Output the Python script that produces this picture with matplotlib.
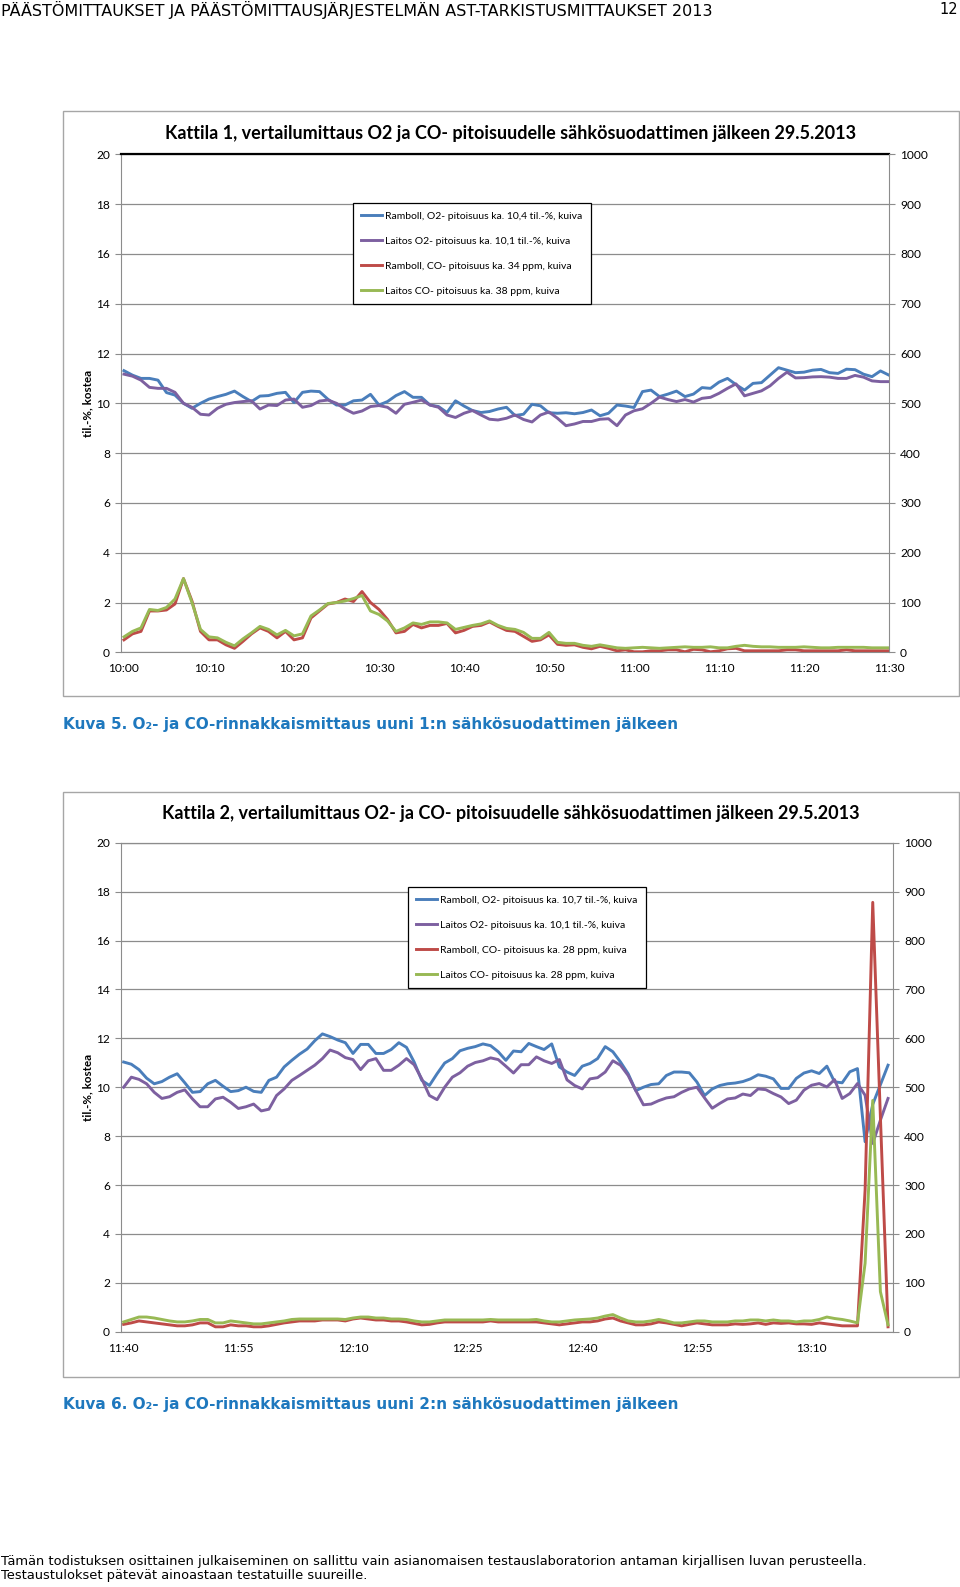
import matplotlib
matplotlib.use("Agg")
import matplotlib.pyplot as plt
from matplotlib.patches import Rectangle
import numpy as np

W, H = 960, 1587

# ---- Kattila 1: one value per minute, 10:00 - 11:30
k1_ramboll_o2 = [
    11.31, 11.13, 11.0, 11.0, 10.93, 10.43, 10.33, 10.0, 9.8, 10.0,
    10.17, 10.27, 10.36, 10.49, 10.27, 10.07, 10.29, 10.31, 10.4, 10.44,
    10.03, 10.44, 10.49, 10.47, 10.16, 9.93, 9.93, 10.1, 10.13, 10.36,
    9.93, 10.07, 10.31, 10.47, 10.24, 10.24, 9.93, 9.87, 9.63, 10.1,
    9.89, 9.71, 9.63, 9.67, 9.77, 9.84, 9.51, 9.56, 9.96, 9.9,
    9.62, 9.6, 9.62, 9.58, 9.63, 9.73, 9.5, 9.6, 9.93, 9.89,
    9.83, 10.47, 10.53, 10.27, 10.37, 10.49, 10.27, 10.37, 10.63, 10.6,
    10.85, 11.0, 10.75, 10.53, 10.8, 10.83, 11.13, 11.43, 11.33, 11.23,
    11.25, 11.33, 11.36, 11.23, 11.2, 11.37, 11.35, 11.17, 11.07, 11.3,
    11.13,
]
k1_laitos_o2 = [
    11.17, 11.09, 10.93, 10.64, 10.6, 10.6, 10.44, 10.0, 9.84, 9.56,
    9.53, 9.8, 9.96, 10.03, 10.07, 10.1, 9.77, 9.93, 9.91, 10.13,
    10.17, 9.84, 9.91, 10.09, 10.13, 10.0, 9.77, 9.6, 9.69, 9.87,
    9.91, 9.84, 9.6, 9.96, 10.04, 10.13, 9.93, 9.84, 9.53, 9.43,
    9.6, 9.71, 9.53, 9.36, 9.33, 9.4, 9.53, 9.35, 9.25, 9.53,
    9.65, 9.4, 9.1, 9.17, 9.27, 9.27, 9.36, 9.38, 9.1, 9.53,
    9.7, 9.78, 10.0, 10.25, 10.15, 10.07, 10.15, 10.05, 10.2, 10.24,
    10.4, 10.6, 10.78, 10.3, 10.4, 10.5, 10.7, 11.0, 11.25, 11.02,
    11.03, 11.06, 11.07, 11.05, 11.0, 11.0, 11.12, 11.05, 10.9, 10.87,
    10.87,
]
k1_ramboll_co = [
    25, 37, 42, 83, 83, 85, 97, 148, 103, 42,
    25, 25, 15, 8, 22, 37, 49, 42, 29, 42,
    25, 29, 69, 83, 97, 100, 107, 102, 122, 100,
    86, 66, 39, 42, 56, 49, 54, 54, 58, 39,
    44, 52, 54, 61, 52, 44, 42, 32, 22, 25,
    35, 16, 14, 15, 10, 7, 12, 8, 3, 5,
    1, 1, 3, 3, 5, 5, 1, 6, 5, 1,
    3, 7, 8, 3, 3, 3, 3, 3, 5, 5,
    3, 3, 3, 3, 3, 5, 3, 3, 3, 3,
    3,
]
k1_laitos_co = [
    31, 42, 49, 86, 84, 90, 107, 148, 100, 46,
    31, 29, 20, 13, 27, 39, 52, 46, 35, 44,
    33, 37, 73, 85, 98, 100, 103, 108, 114, 83,
    76, 63, 42, 49, 59, 56, 61, 61, 59, 46,
    50, 54, 57, 63, 54, 48, 46, 40, 28, 28,
    40, 20, 18, 18, 14, 12, 15, 12, 9, 8,
    9, 10, 9, 8, 9, 10, 11, 10, 10, 11,
    9, 9, 12, 14, 12, 11, 11, 10, 10, 10,
    11, 10, 9, 9, 10, 10, 10, 10, 9, 9,
    9,
]
k1_ticks = ["10:00", "10:10", "10:20", "10:30", "10:40", "10:50",
            "11:00", "11:10", "11:20", "11:30"]
k1_labels = [
    "Ramboll, O2- pitoisuus ka. 10,4 til.-%, kuiva",
    "Laitos O2- pitoisuus ka. 10,1 til.-%, kuiva",
    "Ramboll, CO- pitoisuus ka. 34 ppm, kuiva",
    "Laitos CO- pitoisuus ka. 38 ppm, kuiva",
]

# ---- Kattila 2: one value per minute, 11:40 - 13:20
k2_ramboll_o2 = [
    11.03, 10.94, 10.72, 10.37, 10.14, 10.23, 10.41, 10.55, 10.18, 9.79,
    9.82, 10.14, 10.28, 10.04, 9.82, 9.86, 10.0, 9.83, 9.79, 10.28,
    10.41, 10.83, 11.1, 11.35, 11.56, 11.9, 12.18, 12.07, 11.93, 11.82,
    11.38, 11.75, 11.75, 11.38, 11.38, 11.54, 11.82, 11.63, 11.03, 10.28,
    10.07, 10.55, 10.99, 11.17, 11.49, 11.59, 11.66, 11.77, 11.7, 11.45,
    11.1, 11.48, 11.45, 11.79, 11.66, 11.54, 11.77, 10.83, 10.62, 10.48,
    10.86, 10.97, 11.17, 11.66, 11.45, 11.03, 10.55, 9.86, 10.0, 10.11,
    10.14, 10.48, 10.62, 10.62, 10.59, 10.21, 9.66, 9.93, 10.07, 10.14,
    10.17, 10.23, 10.34, 10.51, 10.45, 10.34, 9.95, 9.95, 10.36, 10.58,
    10.67, 10.56, 10.86, 10.22, 10.18, 10.63, 10.76, 7.77, 9.3, 10.1,
    10.9,
]
k2_laitos_o2 = [
    10.0, 10.41, 10.32, 10.14, 9.79, 9.54, 9.61, 9.79, 9.89, 9.52,
    9.2, 9.2, 9.52, 9.59, 9.38, 9.13, 9.2, 9.31, 9.03, 9.1,
    9.66, 9.93, 10.28, 10.48, 10.69, 10.9, 11.17, 11.52, 11.41, 11.21,
    11.13, 10.72, 11.08, 11.17, 10.69, 10.69, 10.9, 11.17, 10.92, 10.34,
    9.66, 9.49, 10.0, 10.41, 10.59, 10.86, 11.01, 11.08, 11.2, 11.13,
    10.86, 10.58, 10.92, 10.92, 11.24, 11.08, 10.97, 11.13, 10.3, 10.07,
    9.93, 10.34, 10.39, 10.62, 11.08, 10.9, 10.48, 9.86, 9.28, 9.31,
    9.45, 9.56, 9.61, 9.79, 9.93, 10.0, 9.56, 9.14, 9.34, 9.52,
    9.56, 9.72, 9.66, 9.93, 9.9, 9.74, 9.6, 9.33, 9.47, 9.88,
    10.08, 10.15, 10.01, 10.31, 9.54, 9.74, 10.15, 9.67, 7.7, 8.65,
    9.54,
]
k2_ramboll_co = [
    15, 18, 22, 20, 18, 16, 14, 12, 12, 14,
    18, 18, 10, 10, 14, 12, 12, 10, 10, 12,
    15, 18, 20, 22, 22, 22, 24, 24, 24, 22,
    26, 28, 26, 24, 24, 22, 22, 20, 17, 14,
    15, 18, 20, 20, 20, 20, 20, 20, 22, 20,
    20, 20, 20, 20, 20, 18, 16, 14, 16, 18,
    20, 20, 22, 26, 28, 22, 18, 14, 14, 16,
    20, 18, 15, 12, 15, 18, 16, 14, 14, 14,
    16, 15, 16, 18, 15, 18, 17, 18, 16, 16,
    15, 18, 16, 14, 12, 12, 12, 290, 878, 440,
    10,
]
k2_laitos_co = [
    20, 25, 30, 30, 28, 25, 22, 20, 20, 22,
    25, 25, 18, 18, 22, 20, 18, 16, 16, 18,
    20, 22, 25, 26, 26, 26, 26, 26, 26, 25,
    28, 30, 30, 28, 28, 26, 26, 25, 22, 20,
    20, 22, 24, 24, 24, 24, 24, 24, 25, 24,
    24, 24, 24, 24, 25, 22, 20, 20, 22, 24,
    25, 26, 28, 32, 35, 28, 22, 20, 20, 22,
    25, 22, 18, 18, 20, 22, 22, 20, 20, 20,
    22, 22, 24, 24, 22, 24, 22, 22, 20, 22,
    22, 25, 30, 27, 25, 22, 18, 140, 473, 82,
    14,
]
k2_ticks = ["11:40", "11:55", "12:10", "12:25", "12:40", "12:55", "13:10"]
k2_labels = [
    "Ramboll, O2- pitoisuus ka. 10,7 til.-%, kuiva",
    "Laitos O2- pitoisuus ka. 10,1 til.-%, kuiva",
    "Ramboll, CO- pitoisuus ka. 28 ppm, kuiva",
    "Laitos CO- pitoisuus ka. 28 ppm, kuiva",
]

COLORS = ["#4A7EBB", "#7D60A0", "#BE4B48", "#98B954"]
GRID = "#8C8C8C"
CHART_FONT = "Lato"
CAPTION_BLUE = "#1E78BE"


def fx(px):
    return px / W


def fy(py):
    return 1 - py / H


def draw_chart(fig, frame, plot, title, title_pos, o2, co, labels, ticks,
               step, leg_anchor, right_pad, top_color):
    x0, y0, x1, y1 = frame
    fig.add_artist(Rectangle((fx(x0), fy(y1)), (x1 - x0) / W, (y1 - y0) / H,
                             transform=fig.transFigure, fill=False,
                             edgecolor="#A6A6A6", lw=1.0))
    left, top, right, bottom = plot
    ax = fig.add_axes([fx(left), fy(bottom), (right - left) / W, (bottom - top) / H])
    ax2 = ax.twinx()

    xs = np.arange(len(o2[0]))
    handles = []
    for vals, c in zip(o2, COLORS[:2]):
        handles += ax.plot(xs, vals, color=c, lw=2.1, solid_joinstyle="round")
    for vals, c in zip(co, COLORS[2:]):
        handles += ax2.plot(xs, vals, color=c, lw=2.1, solid_joinstyle="round")

    ax.set_ylim(0, 20)
    ax2.set_ylim(0, 1000)
    ax.set_yticks(range(0, 21, 2))
    ax2.set_yticks(range(0, 1001, 100))
    ax.set_xlim(-0.35, xs[-1] + right_pad)
    ax.set_xticks(range(0, len(xs), step))
    ax.set_xticklabels(ticks)
    ax.grid(axis="y", color=GRID, lw=0.9)
    ax.set_axisbelow(True)

    for a in (ax, ax2):
        for s in a.spines.values():
            s.set_visible(False)
    ax.spines["left"].set_visible(True)
    ax.spines["left"].set_color(GRID)
    ax.spines["bottom"].set_visible(True)
    ax.spines["bottom"].set_color(GRID)
    ax2.spines["right"].set_visible(True)
    ax2.spines["right"].set_color(GRID)
    ax.spines["top"].set_visible(True)
    ax.spines["top"].set_color(top_color)
    ax.spines["top"].set_linewidth(1.6 if top_color == "black" else 0.9)

    ax.tick_params(axis="y", length=4, color=GRID, labelsize=8.6, pad=4)
    ax2.tick_params(axis="y", length=4, color=GRID, labelsize=8.6, pad=4)
    ax.tick_params(axis="x", length=0, labelsize=8.6, pad=8)
    for lab in ax.get_yticklabels() + ax2.get_yticklabels() + ax.get_xticklabels():
        lab.set_family(CHART_FONT)

    fig.text(fx(title_pos[0]), fy(title_pos[1]), title, ha="center", va="center",
             family=CHART_FONT, fontweight="bold", fontsize=13.0)
    fig.text(fx(left - 33), fy((top + bottom) / 2), "til.-%, kostea", rotation=90,
             ha="center", va="center", family=CHART_FONT, fontweight="bold",
             fontsize=8.4)

    leg = fig.legend(handles, labels, loc="upper left",
                     bbox_to_anchor=(fx(leg_anchor[0]), fy(leg_anchor[1])),
                     bbox_transform=fig.transFigure, fancybox=False,
                     edgecolor="black", framealpha=1, borderaxespad=0,
                     prop={"family": CHART_FONT, "size": 7.5},
                     handlelength=2.0, handletextpad=0.3, labelspacing=1.52,
                     borderpad=0.8)
    leg.get_frame().set_linewidth(0.9)
    return ax


fig = plt.figure(figsize=(W / 100, H / 100), dpi=100)

fig.text(fx(1), fy(10), "PÄÄSTÖMITTAUKSET JA PÄÄSTÖMITTAUSJÄRJESTELMÄN AST-TARKISTUSMITTAUKSET 2013",
         ha="left", va="center", family="DejaVu Sans", fontsize=11.5)
fig.text(fx(958), fy(10), "12", ha="right", va="center", family="DejaVu Sans", fontsize=10.5)

draw_chart(fig, (63, 111, 959, 696), (121, 154.3, 889, 652.3),
           "Kattila 1, vertailumittaus O2 ja CO- pitoisuudelle sähkösuodattimen jälkeen 29.5.2013",
           (511, 133),
           [k1_ramboll_o2, k1_laitos_o2], [k1_ramboll_co, k1_laitos_co],
           k1_labels, k1_ticks, 10, (353, 203), 0.0, "black")
fig.text(fx(63), fy(724), "Kuva 5. O₂- ja CO-rinnakkaismittaus uuni 1:n sähkösuodattimen jälkeen",
         ha="left", va="center", family="DejaVu Sans", fontweight="bold",
         fontsize=11.0, color=CAPTION_BLUE)

draw_chart(fig, (63, 792, 959, 1377), (121, 842.7, 893, 1331.7),
           "Kattila 2, vertailumittaus O2- ja CO- pitoisuudelle sähkösuodattimen jälkeen 29.5.2013",
           (511, 813),
           [k2_ramboll_o2, k2_laitos_o2], [k2_ramboll_co, k2_laitos_co],
           k2_labels, k2_ticks, 15, (408, 887), 0.65, GRID)
fig.text(fx(63), fy(1404), "Kuva 6. O₂- ja CO-rinnakkaismittaus uuni 2:n sähkösuodattimen jälkeen",
         ha="left", va="center", family="DejaVu Sans", fontweight="bold",
         fontsize=11.0, color=CAPTION_BLUE)

fig.text(fx(1), fy(1561), "Tämän todistuksen osittainen julkaiseminen on sallittu vain asianomaisen "
         "testauslaboratorion antaman kirjallisen luvan perusteella.",
         ha="left", va="center", family="DejaVu Sans", fontsize=9.4)
fig.text(fx(1), fy(1576), "Testaustulokset pätevät ainoastaan testatuille suureille.",
         ha="left", va="center", family="DejaVu Sans", fontsize=9.4)

fig.savefig("out.png", dpi=100)
